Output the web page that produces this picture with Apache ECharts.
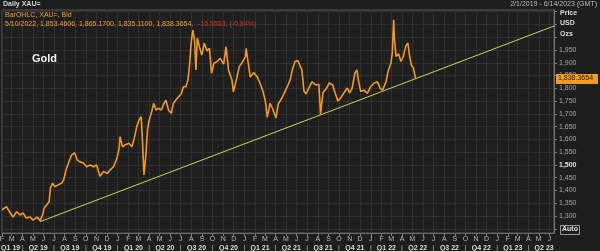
<!DOCTYPE html>
<html><head><meta charset="utf-8">
<script src="https://cdn.jsdelivr.net/npm/echarts@6/dist/echarts.min.js"></script>
<style>html,body{margin:0;padding:0;background:#1e1e1e;}#c{width:600px;height:251px;}</style>
</head><body><div id="c"></div>
<script>
// ---- data ----
const dates = [
'2019-02-01','2019-02-14','2019-02-25','2019-03-05','2019-03-15','2019-03-25','2019-04-03','2019-04-12','2019-04-23','2019-05-02',
'2019-05-13','2019-05-22','2019-05-29','2019-06-03','2019-06-10','2019-06-17','2019-06-21','2019-06-27','2019-07-03','2019-07-12',
'2019-07-23','2019-07-29','2019-08-05','2019-08-12','2019-08-21','2019-08-30','2019-09-06','2019-09-13','2019-09-24','2019-10-03',
'2019-10-14','2019-10-23','2019-11-01','2019-11-11','2019-11-21','2019-12-02','2019-12-10','2019-12-20','2019-12-30','2020-01-06',
'2020-01-08','2020-01-15','2020-01-22','2020-02-03','2020-02-11','2020-02-18','2020-02-25','2020-03-03','2020-03-09','2020-03-12',
'2020-03-17','2020-03-23','2020-03-27','2020-04-01','2020-04-07','2020-04-14','2020-04-21','2020-04-28','2020-05-06','2020-05-12',
'2020-05-19','2020-05-27','2020-06-04','2020-06-10','2020-06-17','2020-06-25','2020-07-03','2020-07-09','2020-07-16','2020-07-22',
'2020-07-27','2020-07-31','2020-08-05','2020-08-10','2020-08-14','2020-08-18','2020-08-24','2020-08-31','2020-09-07','2020-09-15',
'2020-09-22','2020-09-28','2020-10-05','2020-10-13','2020-10-23','2020-11-02','2020-11-09','2020-11-16','2020-11-26','2020-11-30',
'2020-12-10','2020-12-17','2020-12-24','2021-01-04','2021-01-06','2021-01-14','2021-01-18','2021-01-28','2021-02-08','2021-02-16',
'2021-02-24','2021-03-03','2021-03-08','2021-03-16','2021-03-24','2021-04-02','2021-04-09','2021-04-20','2021-04-28','2021-05-07',
'2021-05-14','2021-05-20','2021-05-27','2021-06-04','2021-06-11','2021-06-16','2021-06-22','2021-06-28','2021-07-06','2021-07-15',
'2021-07-26','2021-08-04','2021-08-09','2021-08-16','2021-08-26','2021-09-03','2021-09-13','2021-09-20','2021-09-28','2021-10-06',
'2021-10-15','2021-10-25','2021-11-01','2021-11-08','2021-11-16','2021-11-22','2021-11-26','2021-12-03','2021-12-13','2021-12-22',
'2021-12-31','2022-01-10','2022-01-20','2022-01-28','2022-02-04','2022-02-14','2022-02-21','2022-02-28','2022-03-04','2022-03-08',
'2022-03-10','2022-03-15','2022-03-22','2022-03-29','2022-04-05','2022-04-12','2022-04-18','2022-04-22','2022-04-28','2022-05-04',
'2022-05-10'
];
const prices = [
1324,1337,1312,1296,1317,1304,1312,1292,1296,1284,
1296,1282,1304,1331,1343,1356,1410,1429,1415,1421,
1429,1441,1480,1508,1539,1547,1519,1513,1508,1493,
1500,1493,1500,1456,1474,1467,1480,1493,1526,1571,
1611,1571,1578,1585,1571,1604,1650,1676,1689,1611,
1461,1546,1637,1676,1702,1741,1715,1722,1715,1735,
1754,1715,1702,1741,1754,1767,1780,1806,1806,1833,
1898,1976,2028,1989,1872,1997,1963,1930,1977,1946,
1957,1859,1898,1904,1917,1895,1962,1872,1833,1786,
1840,1885,1898,1924,1956,1880,1844,1862,1842,1817,
1786,1746,1686,1741,1719,1684,1739,1764,1787,1813,
1836,1876,1905,1909,1887,1872,1789,1778,1801,1825,
1813,1815,1699,1784,1800,1821,1813,1782,1750,1762,
1782,1801,1782,1800,1859,1872,1833,1787,1793,1780,
1806,1820,1826,1800,1793,1826,1872,1898,1937,2068,
1995,1925,1935,1905,1925,1965,1978,1935,1890,1880,
1838.3654
];
const trendDates = ['2019-05-22','2023-06-14'];
const trendValues = [1278, 2044];
const yTicks = [1250,1300,1350,1400,1450,1500,1550,1600,1650,1700,1750,1800,1850,1900,1950,2000,2050,2100];
const yLabels = [1300,1350,1400,1450,1500,1550,1600,1650,1700,1750,1800,1850,1900,1950];
const lastPrice = 1838.3654;
const lastPriceText = '1,838.3654';
const monthLetters = ['J','F','M','A','M','J','J','A','S','O','N','D'];
const axisStart = '2019-02-01';
const axisEnd = '2023-06-14';

// ---- helpers ----
function ts(s){ const p = s.split('-'); return new Date(+p[0], +p[1]-1, +p[2]).getTime(); }
const DAY = 864e5;
const monthStarts = [], quarterStarts = [], quarterMids = [];
for (let y = 2019; y <= 2023; y++) {
  for (let m = 0; m < 12; m++) {
    const t = new Date(y, m, 1).getTime();
    if (t >= ts(axisStart) && t <= ts(axisEnd)) monthStarts.push(t);
    if (m % 3 === 0) {
      let mid = (new Date(y, m, 1).getTime() + new Date(y, m + 3, 1).getTime()) / 2;
      if (mid < ts(axisEnd) + 40*DAY && mid > ts(axisStart) - 40*DAY) {
        // keep the first (partial) quarter label inside the chart
        quarterMids.push(Math.max(mid, ts(axisStart) + 25*DAY));
      }
      if (t > ts(axisStart) && t <= ts(axisEnd)) quarterStarts.push(t);
    }
  }
}
const FONT = 'Liberation Sans';
const series = dates.map((d, i) => [ts(d), prices[i]]);
const trend = trendDates.map((d, i) => [ts(d), trendValues[i]]);

const chart = echarts.init(document.getElementById('c'), null, {renderer: 'canvas'});
const xBase = { type: 'value', min: ts(axisStart), max: ts(axisEnd), gridIndex: 0, scale: true };
chart.setOption({
  backgroundColor: '#1e1e1e',
  animation: false,
  textStyle: { fontFamily: FONT },
  grid: { left: 2, right: 46, top: 10, bottom: 18, containLabel: false, outerBoundsMode: 'none',
    show: true, borderColor: '#5a5a5a', borderWidth: 1, backgroundColor: '#1f1f1f' },
  xAxis: [
    Object.assign({}, xBase, {
      axisLine: { show: true, lineStyle: { color: '#6a6a6a' } },
      axisTick: { show: true, customValues: monthStarts, length: 3, lineStyle: { color: '#7a7a7a' } },
      axisLabel: { customValues: monthStarts, formatter: v => monthLetters[new Date(v).getMonth()], color: '#b8b8b8', fontSize: 7, margin: 3, fontFamily: FONT },
      splitLine: { show: true, lineStyle: { color: '#303030', width: 1 } }
    }),
    Object.assign({}, xBase, {
      position: 'bottom', offset: 8,
      axisLine: { show: false }, axisTick: { show: false }, splitLine: { show: false },
      axisLabel: { customValues: quarterMids, formatter: v => { const d = new Date(v); return 'Q' + (Math.floor(d.getMonth()/3)+1) + ' ' + String(d.getFullYear()).slice(2); },
        color: '#dcdcdc', fontSize: 7, fontWeight: 'bold', margin: 4, fontFamily: FONT }
    }),
    Object.assign({}, xBase, {
      position: 'bottom', offset: 8,
      axisLine: { show: false }, axisTick: { show: false }, splitLine: { show: false },
      axisLabel: { customValues: quarterStarts, formatter: () => '|', color: '#bdbdbd', fontSize: 7, margin: 4, fontFamily: FONT }
    })
  ],
  yAxis: {
    type: 'value', position: 'right', min: 1233.6, max: 2106.6,
    axisLine: { show: true, lineStyle: { color: '#7a7a7a' } },
    axisTick: { show: true, customValues: yTicks, length: 3, inside: false, lineStyle: { color: '#7a7a7a' } },
    axisLabel: { customValues: yLabels, margin: 5, fontSize: 7, color: '#a8a8a8', fontFamily: FONT,
      formatter: v => { const s = v.toLocaleString('en-US'); return v === 1500 ? '{b|' + s + '}' : s; },
      rich: { b: { fontWeight: 'bold', color: '#e0e0e0', fontSize: 7, fontFamily: FONT } } },
    splitLine: { show: true, lineStyle: { color: '#303030', width: 1 } }
  },
  series: [
    { type: 'line', name: 'Trend', data: trend, symbol: 'none', xAxisIndex: 0,
      lineStyle: { color: '#c7d45a', width: 1 }, z: 3 },
    { type: 'line', name: 'XAU=', data: series, symbol: 'none', xAxisIndex: 0,
      lineStyle: { color: '#f29a1d', width: 1.6 }, z: 4 }
  ],
  graphic: [
    { type: 'text', left: 3, top: 1, style: { text: 'Daily XAU=', fill: '#d4d4d4', font: 'bold 7px ' + FONT } },
    { type: 'text', right: 3, top: 1, style: { text: '2/1/2019 - 6/14/2023 (GMT)', fill: '#bdbdbd', font: '7px ' + FONT } },
    { type: 'text', left: 5, top: 12, z: 10, style: { text: 'BarOHLC, XAU=, Bid', fill: '#f0a030', font: '7px ' + FONT } },
    { type: 'text', left: 5, top: 21, z: 10, style: { text: '5/10/2022, 1,853.4606, 1,865.1700, 1,835.1100, 1,838.3654,', fill: '#f0a030', font: '7px ' + FONT } },
    { type: 'text', left: 198, top: 21, z: 10, style: { text: '-15.5553, (-0.84%)', fill: '#e0302a', font: '7px ' + FONT } },
    { type: 'text', left: 32, top: 53, z: 10, style: { text: 'Gold', fill: '#f2f2f2', font: 'bold 11px ' + FONT } },
    { type: 'text', left: 560, top: 10, style: { text: 'Price', fill: '#dcdcdc', font: 'bold 7px ' + FONT } },
    { type: 'text', left: 560, top: 20, style: { text: 'USD', fill: '#dcdcdc', font: 'bold 7px ' + FONT } },
    { type: 'text', left: 560, top: 31, style: { text: 'Ozs', fill: '#dcdcdc', font: 'bold 7px ' + FONT } },
    { type: 'rect', left: 560, top: 225, shape: { width: 19, height: 9 }, style: { fill: '#1e1e1e', stroke: '#9a9a9a', lineWidth: 1 } },
    { type: 'text', left: 562, top: 226, style: { text: 'Auto', fill: '#e0e0e0', font: 'bold 7px ' + FONT } }
  ]
});
// last-price tag placed through the y axis scale
const tagY = chart.convertToPixel({ yAxisIndex: 0 }, lastPrice);
chart.setOption({ graphic: [
  { type: 'rect', id: 'tagRect', left: 556, top: Math.round(tagY) - 5, z: 20, shape: { width: 42, height: 10 }, style: { fill: '#f39c1a' } },
  { type: 'text', id: 'tagText', left: 558, top: Math.round(tagY) - 4, z: 21, style: { text: lastPriceText, fill: '#1a1a1a', font: '7px ' + FONT } }
] });
</script></body></html>
